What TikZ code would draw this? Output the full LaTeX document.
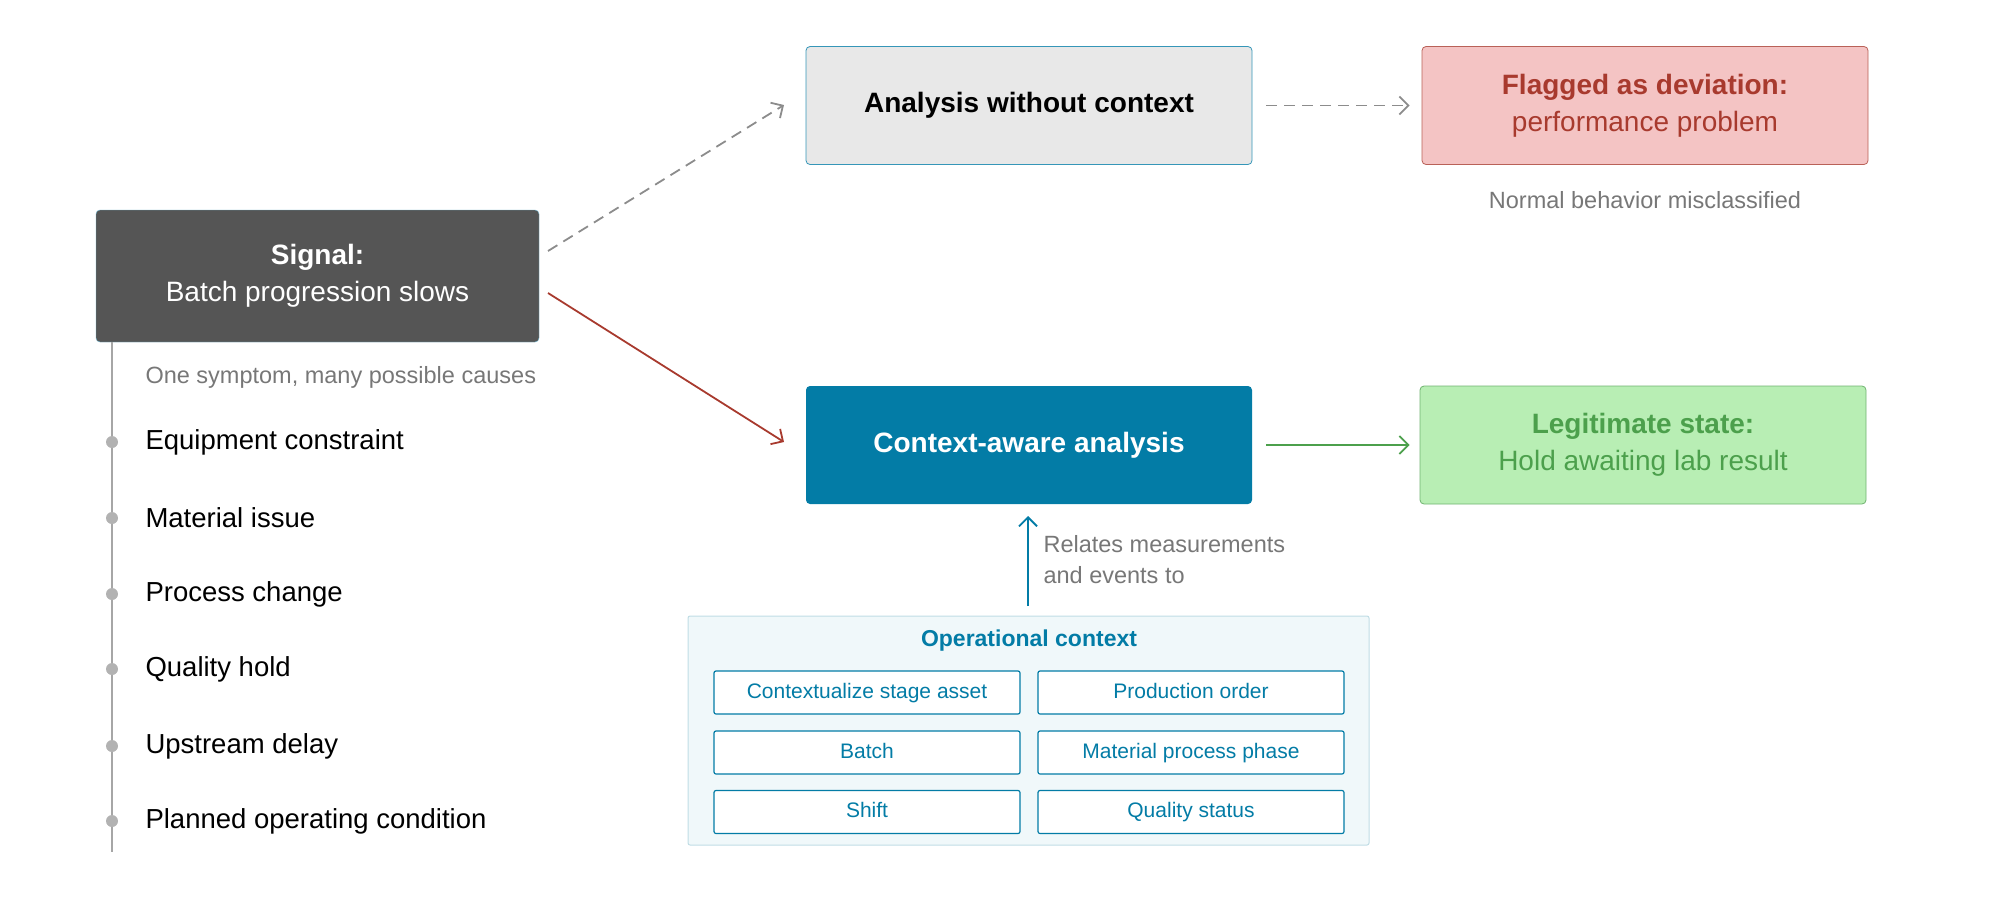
\documentclass[tikz,border=0pt]{standalone}
\usepackage{fontspec}
\setmainfont{Liberation Sans}
\usetikzlibrary{arrows.meta}
\definecolor{teal}{HTML}{037CA6}
\definecolor{dark}{HTML}{555555}
\definecolor{gtxt}{HTML}{777777}
\definecolor{redc}{HTML}{A83A2E}
\definecolor{greenc}{HTML}{4CA04C}
\definecolor{pinkf}{HTML}{F4C4C4}
\begin{document}
\begin{tikzpicture}[x=1pt,y=-1pt,
  fs/.style={font=\fontsize{#1}{#1}\selectfont},
  bigbox/.style={rounded corners=4pt, minimum width=446pt, minimum height=118pt, align=center, inner sep=0pt},
  item/.style={anchor=west, fs=27.5, text=black},
  dot/.style={circle, fill=black!30, inner sep=0pt, minimum size=12pt},
  cbox/.style={draw=teal, line width=1.2pt, fill=white, rounded corners=2pt, minimum width=306pt, minimum height=43pt, text=teal, fs=21, inner sep=0pt, text height=15pt, text depth=4pt},
  arr/.style={-{Straight Barb[length=9pt,width=18pt]}, line width=1.8pt}]
\useasboundingbox (0,0) rectangle (1999,922);
% signal
\node[bigbox, fill=dark, draw=teal!60, minimum width=443pt, minimum height=132pt, text=white, fs=28] (sig) at (317.5,276) {\textbf{Signal:}\\[9pt]Batch progression slows};
\draw[black!35, line width=1.3pt] (112,342) -- (112,852);
\node[anchor=west, fs=23.5, text=gtxt] (sym) at (142,377) {One symptom, many possible causes};
\foreach \y/\t [count=\i] in {442/Equipment constraint,518/Material issue,594/Process change,669/Quality hold,746/Upstream delay,821/Planned operating condition}{
  \node[dot] (d\i) at (112,\y) {};
  \node[item] (it\i) at (142,\y) {\t};
}
% top row
\node[bigbox, fill=black!9, draw=teal!80, line width=0.8pt, fs=28] (noc) at (1029,105.5) {\textbf{Analysis without context}};
\node[bigbox, fill=pinkf, draw=redc!80, line width=0.8pt, text=redc, fs=28] (flag) at (1645,105.5) {\textbf{Flagged as deviation:}\\[9pt]performance problem};
\node[fs=23.5, text=gtxt] (mis) at (1645,200) {Normal behavior misclassified};
% bottom row
\node[bigbox, fill=teal, text=white, fs=28] (ctx) at (1029,445) {\textbf{Context-aware analysis}};
\node[bigbox, fill={rgb,255:red,184;green,238;blue,180}, draw=greenc!80, line width=0.8pt, text=greenc, fs=28] (leg) at (1643,445) {\textbf{Legitimate state:}\\[9pt]Hold awaiting lab result};
% operational context
\node[draw={rgb,255:red,192;green,221;blue,229}, fill={rgb,255:red,240;green,248;blue,250}, line width=1pt, rounded corners=2pt, minimum width=681pt, minimum height=229pt, inner sep=0pt] (op) at (1028.5,730.5) {};
\node[fs=23, text=teal] (opt) at (1029,641) {\textbf{Operational context}};
\node[cbox] (c1) at (867,692.5) {Contextualize stage asset};
\node[cbox] (c2) at (1191,692.5) {Production order};
\node[cbox] (c3) at (867,752.5) {Batch};
\node[cbox] (c4) at (1191,752.5) {Material process phase};
\node[cbox] (c5) at (867,812) {Shift};
\node[cbox] (c6) at (1191,812) {Quality status};
% connectors
\coordinate (a1) at (548,251); \coordinate (a2) at (784,105);
\draw[arr, black!45, dash pattern=on 11pt off 7pt] (a1) -- (a2);
\coordinate (b1) at (548,293); \coordinate (b2) at (784,442);
\draw[arr, redc] (b1) -- (b2);
\draw[arr, black!45, dash pattern=on 11pt off 7pt] ([xshift=14pt]noc.east) -- ([xshift=-12pt]flag.west);
\draw[arr, greenc] ([xshift=14pt]ctx.east) -- ([xshift=-10pt]leg.west);
\draw[arr, teal] (1028,606) -- (1028,516);
\node[anchor=north west, align=left, fs=23.5, text=gtxt] (rel) at (1040,532) {Relates measurements\\[7pt]and events to};
\end{tikzpicture}
\end{document}
